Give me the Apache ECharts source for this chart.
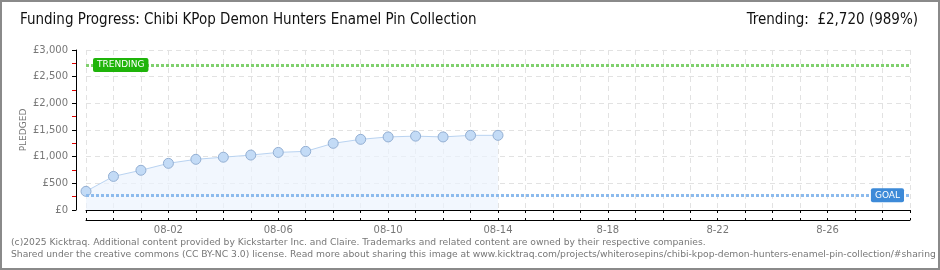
<!DOCTYPE html>
<html>
<head>
<meta charset="utf-8">
<script src="https://cdn.jsdelivr.net/npm/echarts@6/dist/echarts.min.js"></script>
<style>
  html, body { margin: 0; padding: 0; background: #fff; }
  #chart { width: 940px; height: 270px; }
</style>
</head>
<body>
<div id="chart"></div>
<script>
// Campaign days shown on the time axis (later days use the short month form)
const categories = [
  '07-30', '07-31', '08-01', '08-02', '08-03', '08-04', '08-05', '08-06',
  '08-07', '08-08', '08-09', '08-10', '08-11', '08-12', '08-13', '08-14',
  '8-15', '8-16', '8-17', '8-18', '8-19', '8-20', '8-21', '8-22',
  '8-23', '8-24', '8-25', '8-26', '8-27', '8-28', '8-29'
];
// Cumulative amount pledged (GBP) per day
const pledged = [350, 630, 745, 875, 950, 990, 1030, 1080, 1100, 1250, 1325, 1370, 1385, 1370, 1400, 1400];
const goal = 275;
const trending = 2720;
const trendingPct = 989;

const titleText = 'Funding Progress: Chibi KPop Demon Hunters Enamel Pin Collection';
const footerLines = [
  '(c)2025 Kicktraq. Additional content provided by Kickstarter Inc. and Claire. Trademarks and related content are owned by their respective companies.',
  'Shared under the creative commons (CC BY-NC 3.0) license. Read more about sharing this image at www.kicktraq.com/projects/whiterosepins/chibi-kpop-demon-hunters-enamel-pin-collection/#sharing'
];

const fmtGBP = v => '£' + v.toLocaleString('en-GB');
const labelFont = 'DejaVu Sans, Verdana, sans-serif';
const headFont = '"Liberation Sans Narrow", "DejaVu Sans Condensed", sans-serif';

const chart = echarts.init(document.getElementById('chart'), null, { renderer: 'canvas' });

const baseX = {
  type: 'category',
  data: categories,
  boundaryGap: false,
  position: 'bottom',
  offset: 10,
  axisLine: { show: true, lineStyle: { color: '#000', width: 1 } },
  splitLine: { show: false },
  axisLabel: { show: false },
  axisTick: { show: true, interval: 0, length: 3, lineStyle: { color: '#000' } }
};

const markLabel = (text, bg, position, distance) => ({
  show: true,
  position: position,
  distance: distance,
  formatter: text,
  color: '#fff',
  fontFamily: labelFont,
  fontSize: 9,
  backgroundColor: bg,
  padding: [3, 4, 2, 4],
  borderRadius: 2
});

chart.setOption({
  animation: false,
  backgroundColor: '#fff',
  grid: { left: 86, right: 30, top: 50, bottom: 60 },
  xAxis: [
    Object.assign({}, baseX, {
      axisLabel: {
        show: true,
        interval: i => (i - 3) % 4 === 0,
        color: '#777',
        fontFamily: labelFont,
        fontSize: 10,
        margin: 5
      },
      splitLine: {
        show: true,
        interval: 0,
        lineStyle: { color: '#e2e2e2', type: [5, 4], width: 1 }
      }
    }),
    Object.assign({}, baseX, {
      axisTick: { show: true, inside: true, interval: 0, length: 2, lineStyle: { color: '#000' } }
    })
  ],
  yAxis: {
    type: 'value',
    min: 0,
    max: 3000,
    interval: 500,
    offset: 10,
    name: 'PLEDGED',
    nameLocation: 'middle',
    nameRotate: 90,
    nameGap: 48,
    nameMoveOverlap: false,
    nameTextStyle: { color: '#777', fontFamily: labelFont, fontSize: 9, letterSpacing: 1 },
    axisLine: { show: true, lineStyle: { color: '#000', width: 1 } },
    axisTick: { show: true, length: 4, lineStyle: { color: '#000' } },
    minorTick: { show: true, splitNumber: 2, length: 4, lineStyle: { color: '#e00000' } },
    axisLabel: {
      color: '#777',
      fontFamily: labelFont,
      fontSize: 10,
      margin: 8,
      formatter: v => fmtGBP(v)
    },
    splitLine: { show: true, lineStyle: { color: '#e2e2e2', type: [5, 4], width: 1 } }
  },
  series: [{
    type: 'line',
    data: pledged,
    xAxisIndex: 0,
    symbol: 'circle',
    symbolSize: 10,
    lineStyle: { color: '#b9d3f1', width: 1 },
    itemStyle: { color: '#c3dbf6', borderColor: '#93afd3', borderWidth: 1 },
    areaStyle: { color: '#edf4fd' },
    z: 3,
    markLine: {
      silent: true,
      symbol: ['none', 'none'],
      z: 4,
      data: [
        {
          yAxis: goal,
          lineStyle: { color: '#8dbbed', width: 3, type: [3, 2] },
          label: markLabel('GOAL', '#3d8ad8', 'insideEnd', 6)
        },
        {
          yAxis: trending,
          lineStyle: { color: '#80d06e', width: 3, type: [3, 2] },
          label: markLabel('TRENDING', '#1fb40a', 'insideStart', 7)
        }
      ]
    }
  }],
  graphic: [
    {
      type: 'rect',
      shape: { x: 1, y: 1, width: 938, height: 268 },
      style: { fill: 'none', stroke: '#8a8a8a', lineWidth: 2 },
      silent: true,
      z: 100
    },
    {
      type: 'text',
      left: 20,
      top: 13,
      style: { text: titleText, fill: '#111', font: '15px ' + headFont }
    },
    {
      type: 'text',
      right: 22,
      top: 13,
      style: { text: 'Trending:  ' + fmtGBP(trending) + ' (' + trendingPct + '%)', fill: '#111', font: '15px ' + headFont }
    },
    {
      type: 'text',
      left: 11,
      top: 238,
      style: { text: footerLines[0], fill: '#777', font: '9.2px ' + labelFont }
    },
    {
      type: 'text',
      left: 11,
      top: 250,
      style: { text: footerLines[1], fill: '#777', font: '9.2px ' + labelFont }
    }
  ]
});
</script>
</body>
</html>
